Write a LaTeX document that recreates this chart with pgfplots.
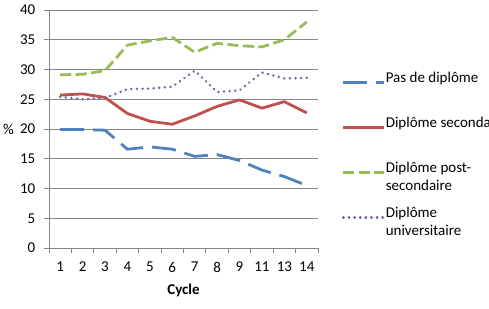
\documentclass[border=0pt]{standalone}
\usepackage{fontspec}
\setmainfont{Carlito}
\usepackage{pgfplots}
\usepackage{pgfplotstable}
\pgfplotsset{compat=1.18}

\definecolor{sBlue}{RGB}{79,129,189}
\definecolor{sRed}{RGB}{192,80,77}
\definecolor{sGreen}{RGB}{155,187,89}
\definecolor{sPurple}{RGB}{128,100,162}
\definecolor{axGray}{RGB}{134,134,134}

\newcommand{\chartfont}{\fontsize{15bp}{18.5bp}\selectfont}
% two-line legend entry, baseline on its first line
\newcommand{\twolines}[2]{\parbox[t]{110bp}{\raggedright #1\\#2}}

% idx: position of the cycle along the x axis (cycles 1..9, 11, 13, 14)
\pgfplotstableread{
idx cycle aucun secondaire postsec univ
0   1     19.9  25.7       29.1    25.4
1   2     19.9  25.9       29.2    25.0
2   3     19.8  25.3       29.8    25.2
3   4     16.6  22.6       34.1    26.7
4   5     17.0  21.3       34.8    26.8
5   6     16.6  20.8       35.4    27.1
6   7     15.4  22.2       32.9    29.8
7   8     15.7  23.8       34.4    26.2
8   9     14.7  24.9       34.0    26.5
9   11    13.1  23.5       33.8    29.5
10  13    12.0  24.6       35.0    28.5
11  14    10.5  22.7       38.0    28.6
}\cycles

\begin{document}
\begin{tikzpicture}
\path[use as bounding box] (0,0) rectangle (489bp,309bp);
\begin{axis}[
  at={(49bp,61bp)}, anchor=south west,
  scale only axis, width=269bp, height=238bp,
  xmin=-0.5, xmax=11.5, ymin=0, ymax=40,
  axis lines*=left,
  axis line style={-, draw=axGray, line width=0.9bp},
  xtick={0,...,11},
  xticklabels={1,2,3,4,5,6,7,8,9,11,13,14},
  minor xtick={-0.5,0.5,...,11.5},
  ytick={0,5,...,40},
  tick align=outside,
  major x tick style={draw=none},
  minor tick length=5bp,
  major tick length=4.5bp,
  tick style={draw=axGray, line width=0.9bp},
  ymajorgrids,
  major grid style={draw=axGray, line width=0.9bp},
  /pgf/number format/assume math mode=true,
  ticklabel style={font=\chartfont},
  yticklabel style={anchor=east, inner sep=0pt, xshift=-9bp},
  xticklabel style={anchor=north, inner sep=0pt, yshift=-9.5bp},
  xlabel={\textbf{Cycle}},
  ylabel={\%},
  every axis x label/.style={at={(axis description cs:0.5,-0.1765)}, anchor=center, font=\chartfont},
  every axis y label/.style={at={(axis description cs:-0.1506,0.5)}, anchor=center, font=\chartfont},
  legend cell align=left,
  legend image code/.code={%
    \draw[#1] (0bp,0bp) -- (40bp,0bp);
    \path (0bp,0bp) -- (41bp,0bp);},
  legend style={
    at={(axis description cs:1.0892,0.7374)}, anchor=north west,
    draw=none, fill=none, inner sep=0pt, outer sep=0pt,
    row sep=33.5bp, font=\chartfont,
    nodes={inner sep=0pt, outer sep=0pt},
    cells={anchor=base west, text height=10bp, text depth=35bp},
  },
  every axis plot/.append style={line width=2.8bp, line join=round},
]
\addplot[sBlue, dash pattern=on 24bp off 9bp] table[x=idx, y=aucun] {\cycles};
\addlegendentry{Pas de diplôme}
\addplot[sRed] table[x=idx, y=secondaire] {\cycles};
\addlegendentry{Diplôme secondaire}
\addplot[sGreen, dash pattern=on 11bp off 4.5bp] table[x=idx, y=postsec] {\cycles};
\addlegendentry{\twolines{Diplôme post-}{secondaire}}
\addplot[sPurple, line cap=round, dash pattern=on 0.01bp off 5.6bp] table[x=idx, y=univ] {\cycles};
\addlegendentry{\twolines{Diplôme}{universitaire}}
\end{axis}
\end{tikzpicture}
\end{document}
